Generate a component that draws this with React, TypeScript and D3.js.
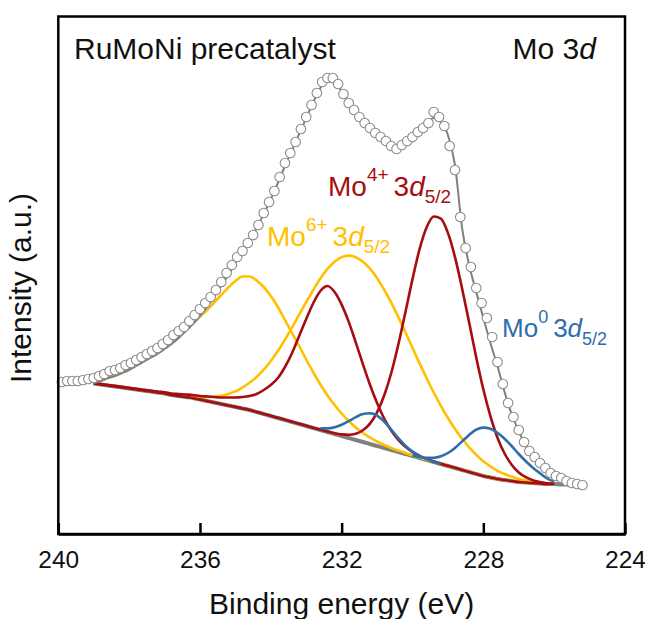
import React, { useEffect, useRef } from "react";
import * as d3 from "d3";

// ---------- data (binding energy in eV, intensity in a.u.) ----------
const rawBE = [
  239.9, 239.75, 239.6, 239.45, 239.3, 239.15, 239.0, 238.85, 238.7, 238.55,
  238.4, 238.25, 238.1, 237.95, 237.8, 237.65, 237.5, 237.35, 237.2, 237.05,
  236.9, 236.75, 236.6, 236.45, 236.3, 236.15, 236.0, 235.85, 235.7, 235.55,
  235.4, 235.25, 235.1, 234.95, 234.8, 234.65, 234.5, 234.35, 234.2, 234.05,
  233.9, 233.75, 233.6, 233.45, 233.3, 233.15, 233.0, 232.85, 232.7, 232.55,
  232.4, 232.25, 232.1, 231.95, 231.8, 231.65, 231.5, 231.35, 231.2, 231.05,
  230.9, 230.75, 230.6, 230.45, 230.3, 230.15, 230.0, 229.85, 229.7, 229.55,
  229.4, 229.25, 229.1, 228.95, 228.8, 228.65, 228.5, 228.35, 228.2, 228.05,
  227.9, 227.75, 227.6, 227.45, 227.3, 227.15, 227.0, 226.85, 226.7, 226.55,
  226.4, 226.25, 226.1, 225.95, 225.8, 225.65, 225.5, 225.35, 225.2,
];
const rawIntensity = [
  152, 153, 153, 153, 154, 155, 156, 158, 160, 163,
  164, 166, 169, 171, 174, 177, 180, 183, 186, 190,
  194, 199, 203, 207, 213, 219, 225, 231, 237, 244,
  252, 261, 269, 277, 283, 291, 299, 309, 321, 332,
  343, 357, 371, 381, 392, 405, 417, 429, 441, 452,
  456, 456, 450, 440, 431, 424, 417, 411, 406, 401,
  397, 393, 388, 385, 389, 393, 397, 402, 406, 411,
  422, 417, 408, 388, 364, 317, 286, 267, 246, 231,
  216, 197, 172, 150, 131, 117, 104, 92, 83, 77,
  71, 66, 61, 58, 56, 53, 51, 50, 49,
];
// fit grid (eV)
const fitBE = [
  239.0, 238.8, 238.6, 238.4, 238.2, 238.0, 237.8, 237.6, 237.4, 237.2,
  237.0, 236.8, 236.6, 236.4, 236.2, 236.0, 235.8, 235.6, 235.4, 235.2,
  235.0, 234.8, 234.6, 234.4, 234.2, 234.0, 233.8, 233.6, 233.4, 233.2,
  233.0, 232.8, 232.6, 232.4, 232.2, 232.0, 231.8, 231.6, 231.4, 231.2,
  231.0, 230.8, 230.6, 230.4, 230.2, 230.0, 229.8, 229.6, 229.4, 229.2,
  229.0, 228.8, 228.6, 228.4, 228.2, 228.0, 227.8, 227.6, 227.4, 227.2,
  227.0, 226.8, 226.6, 226.4, 226.2, 226.0, 225.8, 225.6, 225.4, 225.2,
];
const background = [
  150.5, 149.5, 148.5, 147.5, 146.5, 145.5, 144.5, 143.5, 142.5, 141.5,
  140.5, 139, 138, 137, 136, 134.5, 133, 131.5, 130, 128.5,
  127, 125.5, 124, 122, 120, 118, 116, 114, 112, 110,
  108, 106, 104, 102, 100, 98, 96, 94, 92, 90,
  88, 86, 84, 82, 80, 78, 76, 74, 72, 70,
  68, 66, 64, 62, 60, 58, 56.5, 55, 54, 53,
  52, 51.5, 51, 50.5, 50, 50, 49.5, 49.5, 49, 49,
];
const envelope = [
  151, 153, 156, 158, 161, 164, 168, 172, 176, 180,
  185, 190, 196, 203, 210, 218, 227, 237, 248, 259,
  271, 282, 293, 306, 320, 335, 351, 368, 384, 400,
  416, 432, 446, 454, 452, 443, 432, 422, 413, 405,
  399, 394, 389, 387, 391, 397, 404, 411, 416, 412,
  399, 369, 306, 269, 242, 216, 191, 168, 142, 120,
  103, 88, 77, 69, 63, 58, 55, 53, 51, 50,
];
// component heights above the background (fit grid 239.0 ... 226.0 eV)
const mo6A = [
  2, 4, 7.5, 11, 15, 19.5, 24.5, 30, 35.5, 41.5,
  48, 54, 60, 67, 75, 83, 91, 100, 109, 118,
  126, 132, 133.5, 131.5, 127, 120, 111, 100, 89, 78,
  66.5, 55.5, 45.5, 36.5, 29, 22.5, 17, 12.5, 9, 6.5,
  4.5, 3, 2, 1.5, 1, 0.6, 0.4, 0.3, 0.3, 0.2,
  0.2, 0.2, 0.1, 0.1, 0.1, 0.1, 0, 0, 0, 0,
  0, 0, 0, 0, 0, 0,
];
const mo6B = [
  0.2, 0.2, 0.2, 0.2, 0.2, 0.3, 0.3, 0.3, 0.3, 0.3,
  0.4, 0.5, 0.8, 1.3, 1.9, 2.8, 4.1, 5.9, 8.3, 11.5,
  15.6, 20.9, 27.2, 35, 44.3, 55, 67, 80.3, 94.6, 109.3,
  123.9, 138.2, 151.5, 163.1, 172.3, 178.9, 182.4, 182.8, 180.3, 175.3,
  167.8, 158.3, 147.3, 134.9, 121.7, 108.2, 94.6, 81.8, 69.5, 58.2,
  48, 39, 31.2, 24.7, 19.2, 14.7, 11.1, 8.2, 6, 4.4,
  3.1, 2.2, 1.5, 1, 0.7, 0.4,
];
const mo4A = [
  0.5, 0.5, 0.5, 0.6, 0.6, 0.7, 0.7, 0.8, 0.9, 1,
  1.2, 1.5, 2, 2.5, 3, 3.5, 4.5, 5.5, 6.5, 8,
  9.5, 11.5, 14, 18, 24, 31, 40, 53, 69, 88,
  107, 125, 139, 146, 142, 131.4, 116.1, 97.4, 77.8, 59.2,
  42.9, 29.5, 19.5, 12.2, 7.3, 4.1, 2.2, 1.2, 0.6, 0.3,
  0.2, 0.2, 0.1, 0.1, 0, 0, 0, 0, 0, 0,
  0, 0, 0, 0, 0, 0,
];
const mo4B = [
  0, 0, 0, 0, 0, 0, 0, 0, 0, 0,
  0, 0, 0, 0, 0, 0, 0, 0, 0, 0,
  0.1, 0.1, 0.1, 0.1, 0.1, 0.2, 0.2, 0.2, 0.2, 0.3,
  0.3, 0.3, 0.4, 0.5, 0.7, 1.6, 3.3, 6.3, 11.7, 20.4,
  33.7, 52.5, 77, 107.5, 141.8, 176.9, 208.8, 232.7, 245.5, 245.3,
  233.1, 210.9, 181.6, 149.4, 116.6, 86.7, 61.4, 41.3, 26.5, 16.3,
  9.5, 5.3, 2.8, 1.4, 0.7, 0.3,
];
const mo0A = [
  null, null, null, null, null, null, null, null, null, null,
  null, null, null, null, null, null, null, null, null, null,
  null, null, null, null, null, null, null, null, null, null,
  null, null, 1.8, 3.6, 6.8, 11.3, 16.8, 22.8, 27.9, 30.7,
  30.4, 26.5, 20.5, 13.9, 8.3, 4.4, 2.1, 0.9, 0.3, 0,
  null, null, null, null, null, null, null, null, null, null,
  null, null, null, null, null, null,
];
const mo0B = [
  null, null, null, null, null, null, null, null, null, null,
  null, null, null, null, null, null, null, null, null, null,
  null, null, null, null, null, null, null, null, null, null,
  null, null, null, null, null, null, null, null, null, null,
  null, null, null, null, null, 0.4, 0.9, 2.1, 4.2, 7.7,
  13, 20.1, 28.6, 37.1, 44.3, 48.4, 48.7, 46.1, 41.3, 35,
  28, 21.2, 15.2, 10.3, 5.5, 2.5,
];
const xTicks = [240, 236, 232, 228, 224];

const COLORS = {
  mo6: "#FFC000",
  mo4: "#A50D12",
  mo0: "#2E6DAA",
  gray: "#808080",
};
const FONT = "'Liberation Sans', Arial, Helvetica, sans-serif";

const W = 645;
const H = 619;
const X0 = 58.3;
const X1 = 625;
const Y0 = 534;
const Y1 = 16.5;

export default function App() {
  const axisRef = useRef<SVGGElement | null>(null);

  const x = d3.scaleLinear().domain([240, 224]).range([X0, X1]);
  const y = d3.scaleLinear().domain([0, 517.5]).range([Y0, Y1]);

  useEffect(() => {
    if (!axisRef.current) return;
    const g = d3.select(axisRef.current);
    g.selectAll("*").remove();
    g.call(
      d3
        .axisBottom(x)
        .tickValues(xTicks)
        .tickFormat(d3.format("d"))
        .tickSizeInner(-11)
        .tickSizeOuter(0)
        .tickPadding(16.5)
    );
    g.select(".domain").attr("stroke", "#000").attr("stroke-width", 2.5);
    g.selectAll(".tick line").attr("stroke", "#000").attr("stroke-width", 2.5);
    g.selectAll(".tick text")
      .attr("fill", "#111")
      .style("font-family", FONT)
      .style("font-size", "24.5px");
  }, []);

  const lineXY = d3
    .line<[number, number]>()
    .x((d) => x(d[0]))
    .y((d) => y(d[1]))
    .curve(d3.curveMonotoneX);

  const bgPts: [number, number][] = fitBE.map((be, i) => [be, background[i]]);
  const envPts: [number, number][] = fitBE.map((be, i) => [be, envelope[i]]);

  const compPath = (h: (number | null)[]) => {
    const pts = h
      .map((v, i) => (v === null ? null : ([fitBE[i], background[i] + v] as [number, number])))
      .filter((p) => p !== null) as [number, number][];
    return lineXY(pts) || "";
  };

  const components = [
    { h: mo6A, c: COLORS.mo6 },
    { h: mo6B, c: COLORS.mo6 },
    { h: mo4A, c: COLORS.mo4 },
    { h: mo4B, c: COLORS.mo4 },
    { h: mo0A, c: COLORS.mo0 },
    { h: mo0B, c: COLORS.mo0 },
  ];

  return (
    <svg
      width={W}
      height={H}
      viewBox={`0 0 ${W} ${H}`}
      style={{ position: "absolute", left: 0, top: 0, background: "#fff" }}
      fontFamily={FONT}
    >
      <rect x={0} y={0} width={W} height={H} fill="#fff" />
      {/* background */}
      <path d={lineXY(bgPts) || ""} fill="none" stroke={COLORS.gray} strokeWidth={4} />
      {/* components */}
      {components.map((cp, i) => (
        <path key={i} d={compPath(cp.h)} fill="none" stroke={cp.c} strokeWidth={2.6} />
      ))}
      {/* envelope */}
      <path d={lineXY(envPts) || ""} fill="none" stroke={COLORS.gray} strokeWidth={2} />
      {/* raw data */}
      {rawBE.map((be, i) => (
        <circle
          key={i}
          cx={x(be)}
          cy={y(rawIntensity[i])}
          r={4.8}
          fill="#fff"
          stroke="#8a8a8a"
          strokeWidth={1.1}
        />
      ))}

      {/* frame */}
      <rect x={X0} y={Y1} width={X1 - X0} height={Y0 - Y1} fill="none" stroke="#000" strokeWidth={2.5} />
      <g ref={axisRef} transform={`translate(0,${Y0})`} />

      {/* axis titles */}
      <text x={(X0 + X1) / 2} y={614} textAnchor="middle" fontSize={30} fill="#111">
        Binding energy (eV)
      </text>
      <text transform="translate(31,288) rotate(-90)" textAnchor="middle" fontSize={30} fill="#111">
        Intensity (a.u.)
      </text>

      {/* panel texts */}
      <text x={74} y={59} fontSize={30} fill="#111">
        RuMoNi precatalyst
      </text>
      <text x={596} y={59} fontSize={30} fill="#111" textAnchor="end">
        Mo 3<tspan fontStyle="italic">d</tspan>
      </text>

      {/* component labels */}
      <text x={328} y={196} fontSize={28} fill={COLORS.mo4}>
        Mo<tspan dy={-15} fontSize={19}>4+</tspan>
        <tspan dy={15} dx={5}>3</tspan>
        <tspan fontStyle="italic">d</tspan>
        <tspan dy={7} fontSize={19}>5/2</tspan>
      </text>
      <text x={267} y={246} fontSize={28} fill={COLORS.mo6}>
        Mo<tspan dy={-15} fontSize={19}>6+</tspan>
        <tspan dy={15} dx={5}>3</tspan>
        <tspan fontStyle="italic">d</tspan>
        <tspan dy={7} fontSize={19}>5/2</tspan>
      </text>
      <text x={502} y={336.5} fontSize={26} fill={COLORS.mo0}>
        Mo<tspan dy={-14} fontSize={18}>0</tspan>
        <tspan dy={14} dx={5}>3</tspan>
        <tspan fontStyle="italic">d</tspan>
        <tspan dy={8} fontSize={18}>5/2</tspan>
      </text>
    </svg>
  );
}
